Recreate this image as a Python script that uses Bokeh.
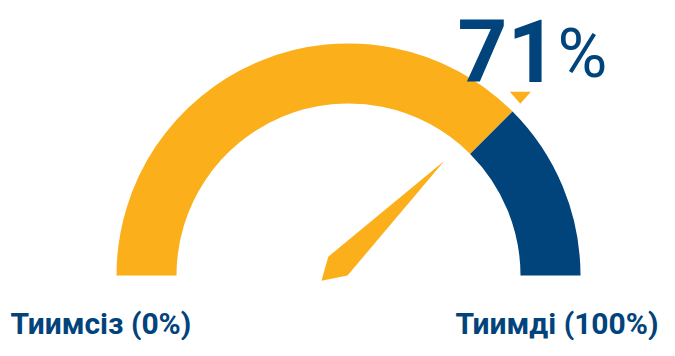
import math
from bokeh.plotting import figure
from bokeh.models import Range1d
from bokeh.core.properties import value
from bokeh.embed import file_html
from bokeh.resources import INLINE

# ---- data ----
label_value = 71            # percentage shown in the big label
gauge_value = 75            # position of the arc boundary / needle as drawn
scale_labels = ["Тиимсіз (0%)", "Тиимді (100%)"]
scale_min = 0
scale_max = 100

ORANGE = "#FAAF1B"
BLUE = "#01437B"

W, H = 659, 340
DX, DY = 12, 6   # view offset into the 675x356 layout
p = figure(width=W, height=H, output_backend="svg", toolbar_location=None,
           x_range=Range1d(DX, DX + W), y_range=Range1d(356 - DY - H, 356 - DY),
           x_axis_location=None, y_axis_location=None, min_border=0)
p.grid.visible = False
p.outline_line_color = None
p.background_fill_color = "white"
p.border_fill_color = "white"

cx, cy = 360, 75
r_in, r_out = 172, 232
frac = (gauge_value - scale_min) / (scale_max - scale_min)
a = math.pi * (1 - frac)

p.annular_wedge(x=[cx], y=[cy], inner_radius=r_in, outer_radius=r_out,
                start_angle=a, end_angle=math.pi, direction="anticlock",
                fill_color=ORANGE, line_color=None)
p.annular_wedge(x=[cx], y=[cy], inner_radius=r_in, outer_radius=r_out,
                start_angle=0, end_angle=a, direction="anticlock",
                fill_color=BLUE, line_color=None)

# needle (shape in local frame along the needle direction)
along = [-22.8, -1.0, 149.0, -0.7]
perp = [15.4, 27.6, 13.3, 0.7]
ca, sa = math.cos(a), math.sin(a)
nx = [cx + u * ca - v * sa for u, v in zip(along, perp)]
ny = [cy + u * sa + v * ca for u, v in zip(along, perp)]
p.patch(nx, ny, fill_color=ORANGE, line_color=None)

# marker triangle above the boundary
tx, ty = cx + 243 * ca, cy + 243 * sa
p.patch([tx, tx - 10.5, tx + 10.5], [ty, ty + 12, ty + 12],
        fill_color=ORANGE, line_color=None)

# big value label
p.text(x=[469], y=[300], text=[str(label_value)], text_font=value("Roboto"),
       text_font_style="bold", text_font_size="87px", text_color=BLUE,
       text_align="left", text_baseline="alphabetic")
p.text(x=[569], y=[297], text=["%"], text_font=value("Roboto"),
       text_font_style="normal", text_font_size="68px", text_color=BLUE,
       text_align="left", text_baseline="alphabetic")

# scale labels
p.text(x=[22], y=[27], text=[scale_labels[0]], text_font=value("Roboto"),
       text_font_style="bold", text_font_size="30px", text_color=BLUE,
       text_align="left", text_baseline="alphabetic")
p.text(x=[670], y=[27], text=[scale_labels[1]], text_font=value("Roboto"),
       text_font_style="bold", text_font_size="30px", text_color=BLUE,
       text_align="right", text_baseline="alphabetic")

open("out.html", "w").write(file_html(p, INLINE))
